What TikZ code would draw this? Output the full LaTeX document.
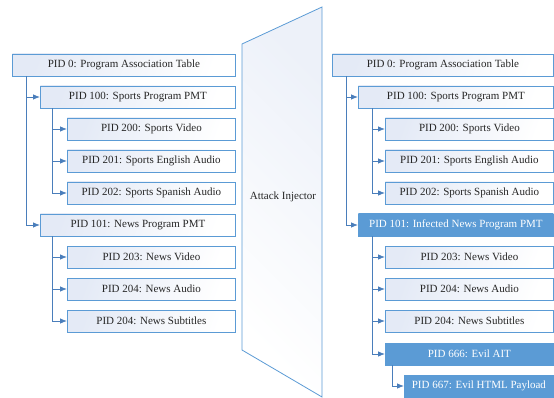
\documentclass[tikz,border=0pt]{standalone}
\usepackage{fontspec}
\setmainfont{Liberation Serif}
\usetikzlibrary{arrows.meta,shadows}
\definecolor{bordc}{HTML}{5B9BD5}
\definecolor{linec}{HTML}{4A7EBB}
\definecolor{tint}{HTML}{E4EAF6}
\definecolor{tintlight}{HTML}{EDF1F9}
\definecolor{hil}{HTML}{5B9BD5}
\tikzset{
  box/.style={draw=bordc, line width=0.8pt, left color=tint, right color=white,
    shading angle=70, minimum height=22pt, inner sep=0pt, anchor=west,
    font=\fontsize{11}{13}\selectfont, text=black!85},
  hbox/.style={box, fill=hil, shading=none, left color=hil, right color=hil, text=white,
    drop shadow={shadow xshift=1.2pt, shadow yshift=-1.2pt, opacity=0.35}},
  conn/.style={draw=linec, line width=0.8pt, -{Latex[length=7pt,width=5.5pt]}},
}
\begin{document}
\begin{tikzpicture}[x=1pt,y=-1pt]
\useasboundingbox (0,0) rectangle (554,398);
% left tree
\node[box, minimum width=223pt] (l0) at (12,65) {PID 0: Program Association Table};
\node[box, minimum width=195pt] (l100) at (40,97) {PID 100: Sports Program PMT};
\node[box, minimum width=168pt] (l200) at (67,129) {PID 200: Sports Video};
\node[box, minimum width=168pt] (l201) at (67,161) {PID 201: Sports English Audio};
\node[box, minimum width=168pt] (l202) at (67,193) {PID 202: Sports Spanish Audio};
\node[box, minimum width=195pt] (l101) at (40,225) {PID 101: News Program PMT};
\node[box, minimum width=168pt] (l203) at (67,257) {PID 203: News Video};
\node[box, minimum width=168pt] (l204) at (67,289) {PID 204: News Audio};
\node[box, minimum width=168pt] (l205) at (67,321) {PID 204: News Subtitles};
\draw[conn] ([xshift=14pt]l0.south west) |- (l100.west);
\draw[conn] ([xshift=14pt]l0.south west) |- (l101.west);
\draw[conn] ([xshift=12pt]l100.south west) |- (l200.west);
\draw[conn] ([xshift=12pt]l100.south west) |- (l201.west);
\draw[conn] ([xshift=12pt]l100.south west) |- (l202.west);
\draw[conn] ([xshift=12pt]l101.south west) |- (l203.west);
\draw[conn] ([xshift=12pt]l101.south west) |- (l204.west);
\draw[conn] ([xshift=12pt]l101.south west) |- (l205.west);
% attack injector
\path[draw=bordc, line width=0.8pt, left color=tintlight, right color=white, shading angle=-45]
  (242,44) -- (322,7) -- (322,397) -- (242,350) -- cycle;
\node[font=\fontsize{11}{13}\selectfont, text=black!85] (ai) at (283,197) {Attack Injector};
% right tree
\node[box, minimum width=221pt] (r0) at (332,65) {PID 0: Program Association Table};
\node[box, minimum width=195pt] (r100) at (358,97) {PID 100: Sports Program PMT};
\node[box, minimum width=168pt] (r200) at (385,129) {PID 200: Sports Video};
\node[box, minimum width=168pt] (r201) at (385,161) {PID 201: Sports English Audio};
\node[box, minimum width=168pt] (r202) at (385,193) {PID 202: Sports Spanish Audio};
\node[hbox, minimum width=195pt] (r101) at (358,225) {PID 101: Infected News Program PMT};
\node[box, minimum width=168pt] (r203) at (385,257) {PID 203: News Video};
\node[box, minimum width=168pt] (r204) at (385,289) {PID 204: News Audio};
\node[box, minimum width=168pt] (r205) at (385,321) {PID 204: News Subtitles};
\node[hbox, minimum width=168pt] (r666) at (385,354) {PID 666: Evil AIT};
\node[hbox, minimum width=149pt] (r667) at (404,386) {PID 667: Evil HTML Payload};
\draw[conn] ([xshift=14pt]r0.south west) |- (r100.west);
\draw[conn] ([xshift=14pt]r0.south west) |- (r101.west);
\draw[conn] ([xshift=14pt]r100.south west) |- (r200.west);
\draw[conn] ([xshift=14pt]r100.south west) |- (r201.west);
\draw[conn] ([xshift=14pt]r100.south west) |- (r202.west);
\draw[conn] ([xshift=14pt]r101.south west) |- (r203.west);
\draw[conn] ([xshift=14pt]r101.south west) |- (r204.west);
\draw[conn] ([xshift=14pt]r101.south west) |- (r205.west);
\draw[conn] ([xshift=14pt]r101.south west) |- (r666.west);
\draw[conn] ([xshift=7pt]r666.south west) |- (r667.west);
\end{tikzpicture}
\end{document}
